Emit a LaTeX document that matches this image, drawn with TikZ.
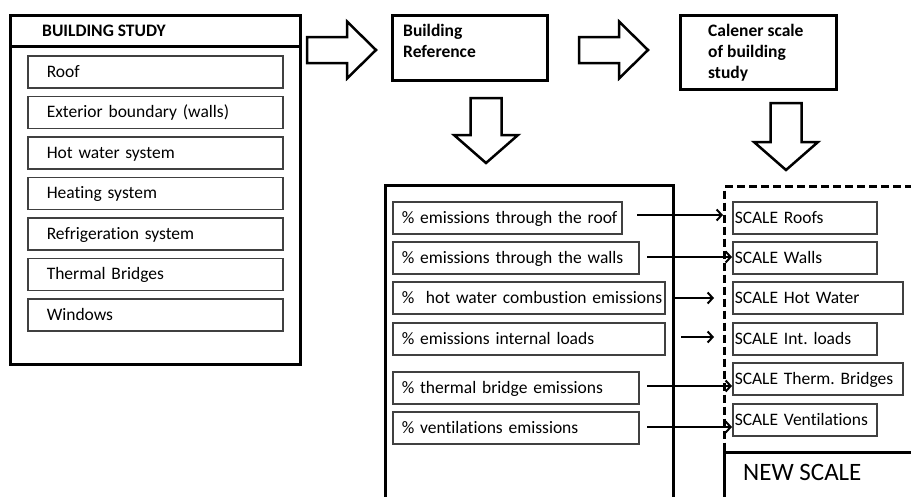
\documentclass[tikz,border=0pt]{standalone}
\usepackage{fontspec}
\setmainfont{Carlito}[Ligatures=NoCommon]
\usetikzlibrary{arrows.meta,calc}
\frenchspacing
\begin{document}
\begin{tikzpicture}[x=1pt,y=-1pt,
  heavy/.style={draw, line width=3pt},
  headline/.style={anchor=north west, inner sep=0pt, align=left,
    font=\bfseries\fontsize{17.5}{20.8}\selectfont},
  cell/.style={draw=black!75, line width=1.5pt, anchor=north west,
    minimum height=32pt, inner ysep=0pt, align=left,
    text height=11.3pt, text depth=0pt, font=\fontsize{17.5}{20}\selectfont},
  leftcell/.style={cell, inner xsep=19pt, text width=217pt},
  midcell/.style={cell, inner xsep=9pt, text width=#1},
  rightcell/.style={cell, inner xsep=2pt, text width=#1},
  link/.style={line width=2pt, -{Straight Barb[length=5pt,width=11pt,line width=2pt]}},
  blockarrow/.style={draw, line width=2.5pt, line join=miter, fill=white},
  pics/rightblock/.style={code={
    \draw[blockarrow] (-69,-13) -- (-29,-13) -- (-29,-28.5) -- (0,0)
      -- (-29,28.5) -- (-29,13) -- (-69,13) -- cycle;}},
  pics/downblock/.style={code={
    \draw[blockarrow] (-15.5,-#1) -- (-15.5,-28) -- (-32,-28) -- (0,0)
      -- (32,-28) -- (15.5,-28) -- (15.5,-#1) -- cycle;}},
]
\useasboundingbox (0,0) rectangle (911,496);
\clip (0,0) rectangle (911,496);

% ---- building study panel ----
\node[heavy, anchor=north west, minimum width=290pt, minimum height=349pt,
  inner sep=0pt] (study) at (9,14) {};
\draw[line width=3pt] (study.north west |- 0,46) coordinate (hl) -- (hl -| study.east);
\node[anchor=west, inner sep=0pt, text height=11.3pt, text depth=0pt,
  font=\bfseries\fontsize{17.5}{20}\selectfont] (studytitle) at (42,30.5) {BUILDING STUDY};

\node[leftcell] (s1) at (27,55)    {\mbox{Roof}};
\node[leftcell] (s2) at (27,95.5)  {\mbox{Exterior boundary (walls)}};
\node[leftcell] (s3) at (27,136)   {\mbox{Hot water system}};
\node[leftcell] (s4) at (27,176.5) {\mbox{Heating system}};
\node[leftcell] (s5) at (27,217)   {\mbox{Refrigeration system}};
\node[leftcell] (s6) at (27,257.5) {\mbox{Thermal Bridges}};
\node[leftcell] (s7) at (27,298)   {\mbox{Windows}};

% ---- reference building and calener boxes ----
\node[heavy, anchor=north west, minimum width=155pt, minimum height=65pt,
  inner sep=0pt] (ref) at (391,14) {};
\node[headline] (reftext) at (403,24) {Building\\Reference};

\node[heavy, anchor=north west, minimum width=156pt, minimum height=74pt,
  inner sep=0pt] (cal) at (679,14) {};
\node[headline] (caltext) at (708,24) {Calener scale\\of building\\study};

% ---- block arrows ----
\pic at (376,50) {rightblock};
\pic at (648,50) {rightblock};
\pic at (486,163) {downblock=65};
\pic at (786,170) {downblock=67};

% ---- emissions panel (open at the bottom) ----
\node[heavy, anchor=north west, minimum width=288pt, minimum height=340pt,
  inner sep=0pt] (emis) at (384,184) {};

\node[midcell=211pt] (m1) at (392,201) {\mbox{\% emissions through the roof}};
\node[midcell=228pt] (m2) at (392,241) {\mbox{\% emissions through the walls}};
\node[midcell=254pt] (m3) at (392,281) {\mbox{\% \ hot water combustion emissions}};
\node[midcell=254pt] (m4) at (392,322) {\mbox{\% emissions internal loads}};
\node[midcell=228pt] (m5) at (392,371) {\mbox{\% thermal bridge emissions}};
\node[midcell=228pt] (m6) at (392,411) {\mbox{\% ventilations emissions}};

% ---- scale panel (dashed) and new scale ----
\node[draw, line width=3pt, dash pattern=on 8pt off 4pt, anchor=north west,
  minimum width=260pt, minimum height=340pt, inner sep=0pt] (scale) at (723,185) {};

\node[rightcell=140pt] (r1) at (732,201) {\mbox{SCALE Roofs}};
\node[rightcell=140pt] (r2) at (732,241) {\mbox{SCALE Walls}};
\node[rightcell=166pt] (r3) at (732,281) {\mbox{SCALE Hot Water}};
\node[rightcell=140pt] (r4) at (732,322) {\mbox{SCALE Int. loads}};
\node[rightcell=166pt] (r5) at (732,362) {\mbox{SCALE Therm. Bridges}};
\node[rightcell=140pt] (r6) at (732,403) {\mbox{SCALE Ventilations}};

\node[heavy, fill=white, anchor=north west, minimum width=260pt,
  minimum height=120pt, inner sep=0pt] (newscale) at (723,451) {};
\node[anchor=west, inner sep=0pt, text height=16pt, text depth=0pt,
  font=\fontsize{25}{28}\selectfont] (newtext) at (743,472) {NEW SCALE};

% ---- links from emissions to scales ----
\coordinate (a1) at (637,215);
\coordinate (a2) at (647,257);
\coordinate (a3) at (emis.east |- 0,298);
\coordinate (a4) at (681,337);
\coordinate (a5) at (647,386);
\coordinate (a6) at (647,427);
\coordinate (e3) at (714,298);
\coordinate (e4) at (714,337);

\draw[link] (a1) -- (a1 -| scale.west);
\draw[link] (a2) -- (a2 -| r2.west);
\draw[link] (a3) -- (e3);
\draw[link] (a4) -- (e4);
\draw[link] (a5) -- (a5 -| r5.west);
\draw[link] (a6) -- (a6 -| r6.west);
\end{tikzpicture}
\end{document}
